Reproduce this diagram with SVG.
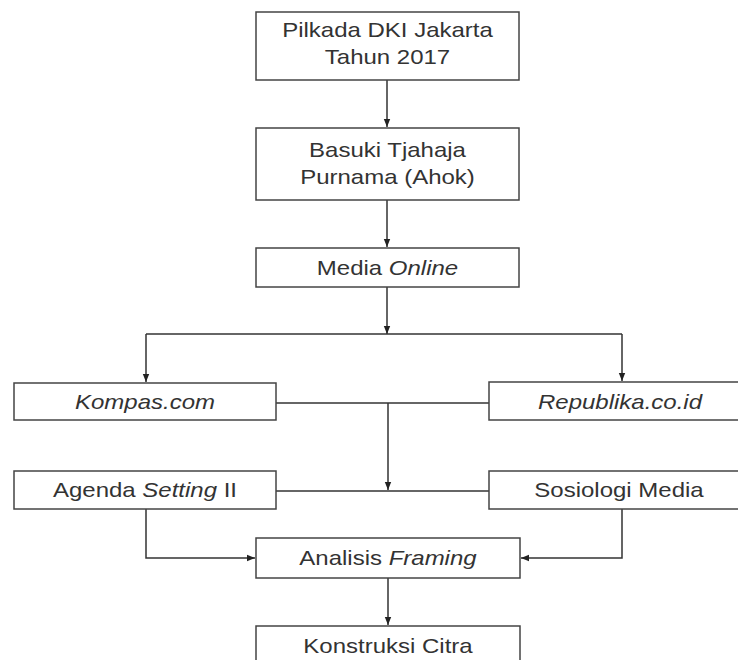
<svg xmlns="http://www.w3.org/2000/svg" width="738" height="660" viewBox="0 0 738 660">
<style>
.box{fill:#fff;stroke:#444;stroke-width:1.5}
.t{font-family:"Liberation Sans",Arial,sans-serif;font-size:20px;fill:#333;text-anchor:middle}
.i{font-style:italic}
.c{fill:none;stroke:#333;stroke-width:1.5}
</style>
<defs>
<marker id="ah" markerUnits="userSpaceOnUse" markerWidth="8" markerHeight="8" viewBox="0 0 8 8" refX="8" refY="4" orient="auto">
<path d="M0,0.8 L8,4 L0,7.2 Z" fill="#222"/>
</marker>
</defs>
<rect width="738" height="660" fill="#fff"/>
<g id="connectors">
<path class="c" d="M387,80 V127" marker-end="url(#ah)"/>
<path class="c" d="M387,200 V247" marker-end="url(#ah)"/>
<path class="c" d="M387,287 V334" marker-end="url(#ah)"/>
<path class="c" d="M146,334 H622"/>
<path class="c" d="M146,334 V382" marker-end="url(#ah)"/>
<path class="c" d="M622,334 V381" marker-end="url(#ah)"/>
<path class="c" d="M276,403 H489"/>
<path class="c" d="M388,403 V490" marker-end="url(#ah)"/>
<path class="c" d="M276,491 H489"/>
<path class="c" d="M146,509 V558 H255" marker-end="url(#ah)"/>
<path class="c" d="M622,509 V558 H521" marker-end="url(#ah)"/>
<path class="c" d="M388,578 V625" marker-end="url(#ah)"/>
</g>
<g id="n1">
<rect class="box" x="256" y="12" width="263" height="68"/>
<text class="t" transform="translate(387.5 37) scale(1.2 1)">Pilkada DKI Jakarta</text>
<text class="t" transform="translate(387.5 64) scale(1.2 1)">Tahun 2017</text>
</g>
<g id="n2">
<rect class="box" x="256" y="128" width="263" height="72"/>
<text class="t" transform="translate(387.5 157) scale(1.2 1)">Basuki Tjahaja</text>
<text class="t" transform="translate(387.5 184) scale(1.2 1)">Purnama (Ahok)</text>
</g>
<g id="n3">
<rect class="box" x="256" y="248" width="263" height="39"/>
<text class="t" transform="translate(387.5 275) scale(1.2 1)">Media <tspan class="i">Online</tspan></text>
</g>
<g id="n4">
<rect class="box" x="14" y="383" width="262" height="37"/>
<text class="t i" transform="translate(145 409) scale(1.2 1)">Kompas.com</text>
</g>
<g id="n5">
<rect class="box" x="489" y="382" width="262" height="38"/>
<text class="t i" transform="translate(620 409) scale(1.2 1)">Republika.co.id</text>
</g>
<g id="n6">
<rect class="box" x="14" y="471" width="262" height="38"/>
<text class="t" transform="translate(145 497) scale(1.2 1)">Agenda <tspan class="i">Setting</tspan> II</text>
</g>
<g id="n7">
<rect class="box" x="489" y="471" width="262" height="38"/>
<text class="t" transform="translate(619 497) scale(1.2 1)">Sosiologi Media</text>
</g>
<g id="n8">
<rect class="box" x="256" y="538" width="264" height="40"/>
<text class="t" transform="translate(388 565) scale(1.2 1)">Analisis <tspan class="i">Framing</tspan></text>
</g>
<g id="n9">
<rect class="box" x="256" y="626" width="264" height="44"/>
<text class="t" transform="translate(388 653) scale(1.2 1)">Konstruksi Citra</text>
</g>
</svg>
